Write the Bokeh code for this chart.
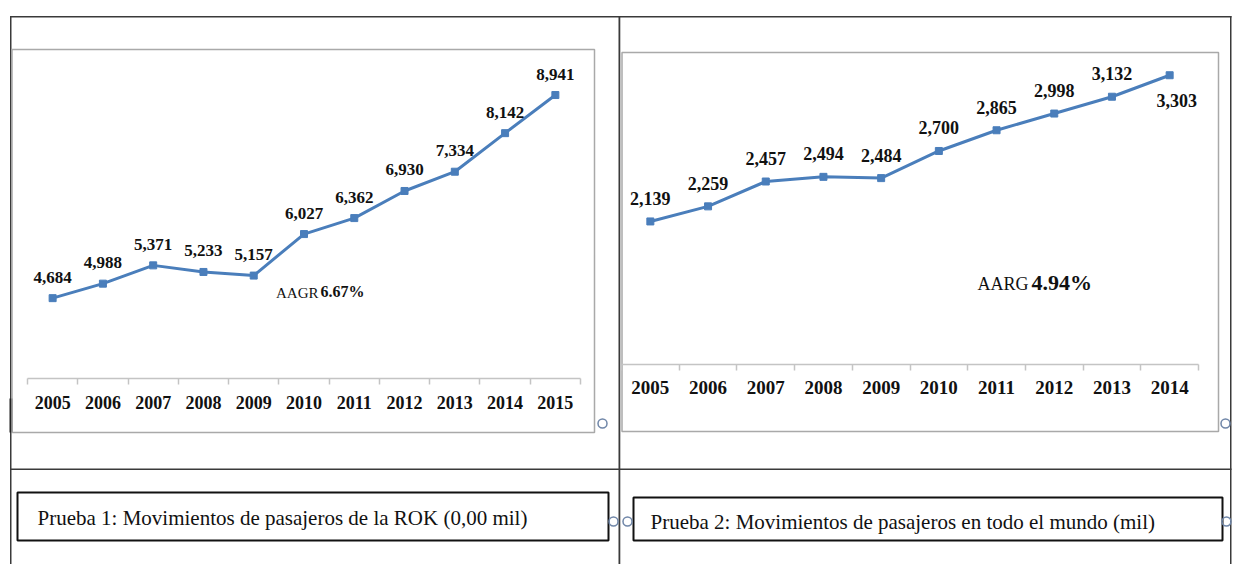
from bokeh.plotting import figure
from bokeh.models import (ColumnDataSource, LabelSet, Label, LinearAxis,
                          FixedTicker, Range1d)
from bokeh.embed import file_html
from bokeh.resources import INLINE

# ---------------- data ----------------
years_rok = [2005, 2006, 2007, 2008, 2009, 2010, 2011, 2012, 2013, 2014, 2015]
pax_rok = [4684, 4988, 5371, 5233, 5157, 6027, 6362, 6930, 7334, 8142, 8941]
years_world = [2005, 2006, 2007, 2008, 2009, 2010, 2011, 2012, 2013, 2014]
pax_world = [2139, 2259, 2457, 2494, 2484, 2700, 2865, 2998, 3132, 3303]
tick_labels_rok = [str(y) for y in years_rok]
tick_labels_world = [str(y) for y in years_world]
caption_rok = "Prueba 1: Movimientos de pasajeros de la ROK (0,00 mil)"
caption_world = "Prueba 2: Movimientos de pasajeros en todo el mundo (mil)"
growth_rok = ("AAGR", "6.67%")
growth_world = ("AARG", "4.94%")

LINE = "#4a7ebb"
SERIF = "Liberation Serif"
DARK = "#3a3a3a"
FRAME_GRAY = "#a9a9a9"
W, H = 1237, 564

# one page-sized canvas; its main ranges are page pixels (y downwards)
p = figure(width=W, height=H, title=None, toolbar_location=None,
           output_backend="svg", x_axis_location=None, y_axis_location=None,
           x_range=Range1d(0, W), y_range=Range1d(H, 0),
           min_border=0)
p.min_border_left = p.min_border_right = p.min_border_top = p.min_border_bottom = 0
p.outline_line_color = None
p.grid.visible = False
p.background_fill_color = "white"
p.border_fill_color = "white"


def add_chart(name, years, values, tick_labels, y_lo, y_hi,
              px_l, px_r, px_top, px_bottom, label_size, axis_size,
              label_dx, label_dy, standoff):
    """Chart placed in the page area [px_l, px_r] x [px_top, px_bottom]."""
    x0, x1 = years[0] - 0.5, years[-1] + 0.5
    kx = (px_r - px_l) / (x1 - x0)
    ky = (px_bottom - px_top) / (y_hi - y_lo)
    p.extra_x_ranges[name + "_x"] = Range1d(x0 - px_l / kx, x0 + (W - px_l) / kx)
    p.extra_y_ranges[name + "_y"] = Range1d(y_lo - (H - px_bottom) / ky,
                                            y_hi + px_top / ky)
    rn = dict(x_range_name=name + "_x", y_range_name=name + "_y")

    ax = LinearAxis(fixed_location=y_lo, bounds=(x0, x1), **rn)
    ax.ticker = FixedTicker(ticks=years,
                            minor_ticks=[y - 0.5 for y in years] + [x1])
    ax.major_label_overrides = {y: t for y, t in zip(years, tick_labels)}
    ax.axis_line_color = "#c4c4c4"
    ax.axis_line_width = 1.5
    ax.major_tick_line_color = None
    ax.major_tick_out = 0
    ax.major_tick_in = 0
    ax.minor_tick_line_color = "#c4c4c4"
    ax.minor_tick_line_width = 1.5
    ax.minor_tick_out = 6
    ax.minor_tick_in = 0
    ax.major_label_standoff = standoff
    ax.major_label_text_font = SERIF
    ax.major_label_text_font_style = "bold"
    ax.major_label_text_font_size = f"{axis_size}px"
    ax.major_label_text_color = "#111111"
    p.add_layout(ax, "below")

    src = ColumnDataSource(dict(x=years, y=values,
                                txt=[f"{v:,}" for v in values],
                                dx=label_dx, dy=label_dy))
    p.line("x", "y", source=src, line_color=LINE, line_width=3, **rn)
    p.scatter("x", "y", source=src, marker="square", size=7,
              fill_color=LINE, line_color=LINE, **rn)
    p.add_layout(LabelSet(x="x", y="y", text="txt", source=src,
                          x_offset="dx", y_offset="dy",
                          text_align="center", text_baseline="middle",
                          text_font=SERIF, text_font_style="bold",
                          text_font_size=f"{label_size}px",
                          text_color="#111111", **rn))


def bar(x1, y1, x2, y2, color=DARK):
    p.quad(left=[x1], right=[x2], top=[y1], bottom=[y2],
           fill_color=color, line_color=None)


def box(x1, y1, x2, y2, color, lw):
    p.quad(left=[x1], right=[x2], top=[y1], bottom=[y2],
           fill_alpha=0, line_color=color, line_width=lw)


def text(x, y, s, size, bold=False, align="left", color="#111111"):
    p.add_layout(Label(x=x, y=y, text=s, text_font=SERIF,
                       text_font_style="bold" if bold else "normal",
                       text_font_size=f"{size}px", text_align=align,
                       text_baseline="middle", text_color=color))


# ---------------- table / frames / captions ----------------
bar(9.5, 15.5, 1231, 17)          # top rule
bar(9.5, 15.5, 11, H)             # left rule
bar(9, 398, 12, 432, "#222222")   # thick piece of left rule
bar(618, 15.5, 619.8, H)          # middle rule
bar(1229.5, 15.5, 1231, H)        # right rule
bar(9.5, 468, 1231, 469.5)        # row separator

box(11.5, 49, 594, 432, FRAME_GRAY, 1.5)
box(621.5, 52, 1218, 431, FRAME_GRAY, 1.5)

box(17, 492, 608, 540, "#111111", 2)
box(633, 497, 1222, 540, "#111111", 2)
text(37, 517, caption_rok, 21)
text(650, 521, caption_world, 21)

text(318, 292, growth_rok[0], 15, align="right")
text(320, 291, growth_rok[1], 16, bold=True)
text(1028, 283, growth_world[0], 18, align="right")
text(1031, 282, growth_world[1], 22, bold=True)

for mx, my in [(602, 423), (613, 521), (627, 521), (1225, 423), (1226, 521)]:
    p.scatter([mx], [my], marker="circle", size=9, fill_alpha=0,
              line_color="#6f86a8", line_width=1.5)

# ---------------- charts ----------------
add_chart("rok", years_rok, pax_rok, tick_labels_rok, 3000, 10000,
          px_l=27, px_r=580, px_top=44, px_bottom=378,
          label_size=17, axis_size=18,
          label_dx=[0] * len(years_rok), label_dy=[21] * len(years_rok),
          standoff=11)

dy_w = [23] * (len(years_world) - 1) + [-25]
dx_w = [0] * (len(years_world) - 1) + [7]
add_chart("wld", years_world, pax_world, tick_labels_world, 1000, 3500,
          px_l=621, px_r=1198, px_top=50, px_bottom=364,
          label_size=18, axis_size=19,
          label_dx=dx_w, label_dy=dy_w, standoff=10)

open("out.html", "w").write(file_html(p, INLINE))
